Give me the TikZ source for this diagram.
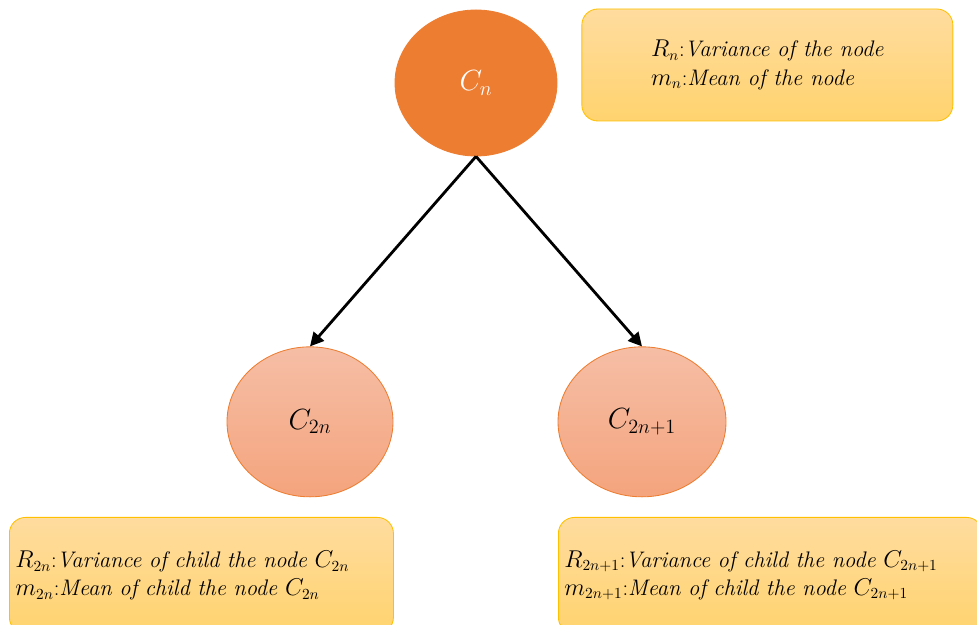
\documentclass[tikz,border=0pt]{standalone}
\usepackage{amsmath}
\usepackage{tikz}
\usetikzlibrary{positioning}
\usetikzlibrary{calc}
\usetikzlibrary{arrows.meta}
\usetikzlibrary{shapes.geometric}

\definecolor{parentFill}{HTML}{ED7D31}
\definecolor{childTop}{HTML}{F6BEA6}
\definecolor{childBottom}{HTML}{F4A47D}
\definecolor{boxTop}{HTML}{FFDC9F}
\definecolor{boxBottom}{HTML}{FFD36E}
\definecolor{boxLine}{HTML}{FFC000}

\tikzset{
	clusterNode/.style={
		ellipse,
		draw=parentFill,
		line width=0.6pt,
		font=\fontsize{21}{25}\selectfont
	},
	infoBox/.style={
		draw=boxLine,
		line width=0.6pt,
		rounded corners=0.4cm,
		top color=boxTop,
		bottom color=boxBottom,
		align=left,
		font=\fontsize{16}{20}\selectfont
	},
	link/.style={
		line width=2pt,
		-{Triangle[length=3.4mm,width=3.4mm]}
	}
}

\begin{document}
\begin{tikzpicture}

	\useasboundingbox (0,0) rectangle (24.425,15.625);
	\clip (0,0) rectangle (24.425,15.625);

	\node[
		clusterNode,
		fill=parentFill,
		text=white,
		minimum width=4.05cm,
		minimum height=3.65cm
	] (cn) at (11.9,13.55) {$C_n$};

	\node[
		clusterNode,
		top color=childTop,
		bottom color=childBottom,
		minimum width=4.15cm,
		minimum height=3.75cm,
		below=4.75cm of cn,
		xshift=-4.15cm
	] (cLeft) {$C_{2n}$};

	\node[
		clusterNode,
		top color=childTop,
		bottom color=childBottom,
		minimum width=4.2cm,
		minimum height=3.75cm,
		below=4.75cm of cn,
		xshift=4.15cm
	] (cRight) {$C_{2n+1}$};

	\node[
		infoBox,
		minimum width=9.275cm,
		minimum height=2.8cm,
		right=0.6cm of cn,
		yshift=0.45cm
	] (infoParent) {$R_n$:\textit{Variance of the node}\\$m_n$:\textit{Mean of the node}};

	\node[
		infoBox,
		text width=9.3cm,
		inner sep=0.15cm,
		minimum height=2.9cm,
		anchor=north west
	] (infoLeft) at (0.225,2.7) {$R_{2n}$:\textit{Variance of child the node} $C_{2n}$\\$m_{2n}$:\textit{Mean of child the node} $C_{2n}$};

	\node[
		infoBox,
		text width=10.3cm,
		inner sep=0.15cm,
		minimum height=2.9cm,
		anchor=north west
	] (infoRight) at (13.95,2.7) {$R_{2n+1}$:\textit{Variance of child the node} $C_{2n+1}$\\$m_{2n+1}$:\textit{Mean of child the node} $C_{2n+1}$};

	\draw[link] (cn.south) -- (cLeft.north);

	\draw[link] (cn.south) -- (cRight.north);

\end{tikzpicture}
\end{document}
